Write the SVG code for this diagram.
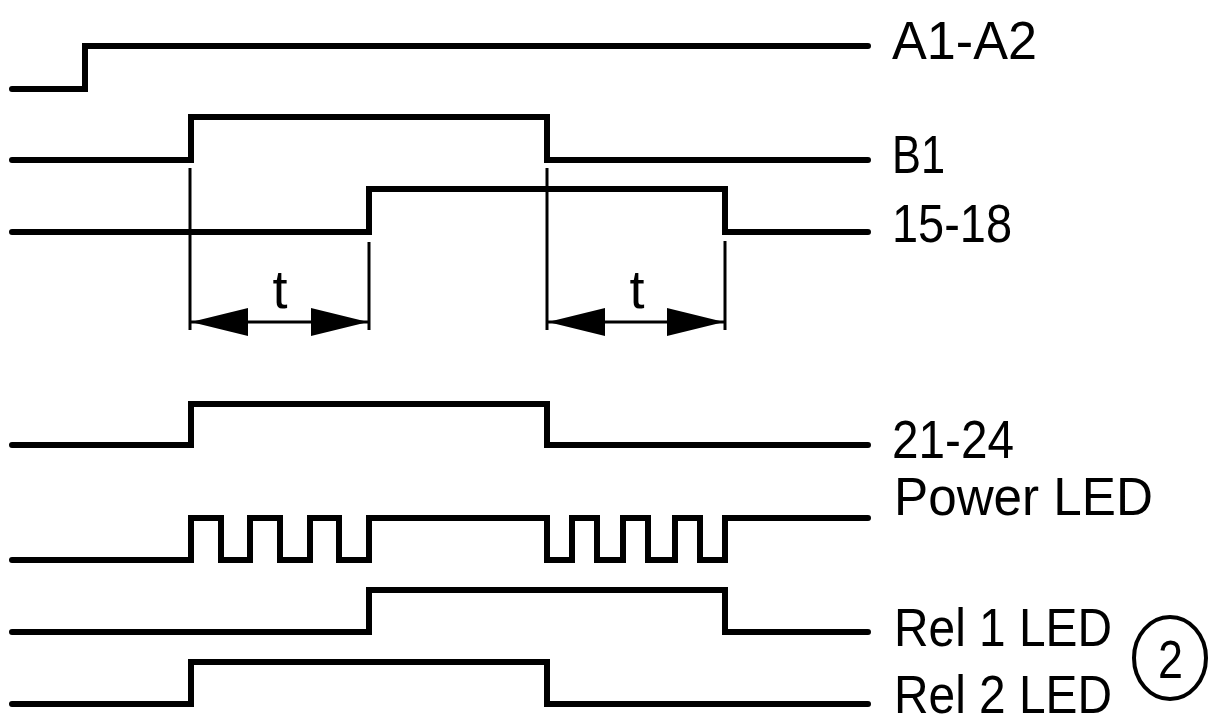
<svg xmlns="http://www.w3.org/2000/svg" width="1211" height="724" viewBox="0 0 1211 724">
<style>
.sig{fill:none;stroke:#000;stroke-width:6;stroke-linejoin:miter;stroke-linecap:round}
.dim{fill:none;stroke:#000;stroke-width:3}
.lbl{font-family:"Liberation Sans",Arial,sans-serif;font-size:54px;fill:#000}
</style>
<defs>
<marker id="ah" viewBox="0 0 57 28" refX="57" refY="14" markerWidth="57" markerHeight="28" markerUnits="userSpaceOnUse" orient="auto-start-reverse">
<path d="M0,0 L57,14 L0,28 Z" fill="#000"/>
</marker>
</defs>
<rect width="1211" height="724" fill="#fff"/>
<g id="connectors">
<path class="sig" d="M12,89 H85 V46 H868"/>
<path class="sig" d="M12,160 H191 V117 H547 V160 H868"/>
<path class="sig" d="M12,232 H369 V189 H725 V232 H868"/>
<path class="sig" d="M12,445 H191 V404 H547 V445 H868"/>
<path class="sig" d="M12,560 H191 V518 H221 V560 H250 V518 H280 V560 H310 V518 H339 V560 H369 V518 H547 V560 H572 V518 H597 V560 H623 V518 H648 V560 H675 V518 H700 V560 H725 V518 H868"/>
<path class="sig" d="M12,632 H369 V590 H725 V632 H868"/>
<path class="sig" d="M12,704 H191 V662 H547 V704 H868"/>
<line class="dim" x1="190" y1="168" x2="190" y2="330"/>
<line class="dim" x1="369" y1="242" x2="369" y2="330"/>
<line class="dim" x1="547" y1="168" x2="547" y2="330"/>
<line class="dim" x1="725" y1="241" x2="725" y2="330"/>
<line class="dim" x1="191" y1="322" x2="368" y2="322" marker-start="url(#ah)" marker-end="url(#ah)"/>
<line class="dim" x1="548" y1="322" x2="724" y2="322" marker-start="url(#ah)" marker-end="url(#ah)"/>
</g>
<g id="dim-t1"><text class="lbl" x="280" y="308" text-anchor="middle">t</text></g>
<g id="dim-t2"><text class="lbl" x="637" y="308" text-anchor="middle">t</text></g>
<g id="label-a1a2"><text class="lbl" x="892" y="59" textLength="145" lengthAdjust="spacingAndGlyphs">A1-A2</text></g>
<g id="label-b1"><text class="lbl" x="892" y="173" textLength="53" lengthAdjust="spacingAndGlyphs">B1</text></g>
<g id="label-1518"><text class="lbl" x="892" y="242" textLength="120" lengthAdjust="spacingAndGlyphs">15-18</text></g>
<g id="label-2124"><text class="lbl" x="892" y="458" textLength="122" lengthAdjust="spacingAndGlyphs">21-24</text></g>
<g id="label-power"><text class="lbl" x="894" y="515" textLength="259" lengthAdjust="spacingAndGlyphs">Power LED</text></g>
<g id="label-rel1"><text class="lbl" x="894" y="646" textLength="218" lengthAdjust="spacingAndGlyphs">Rel 1 LED</text></g>
<g id="label-rel2"><text class="lbl" x="894" y="713" textLength="218" lengthAdjust="spacingAndGlyphs">Rel 2 LED</text></g>
<g id="note-2">
<ellipse cx="1170" cy="658" rx="36" ry="41" fill="none" stroke="#000" stroke-width="4"/>
<text class="lbl" x="1158" y="678" font-size="56" textLength="25" lengthAdjust="spacingAndGlyphs">2</text>
</g>
</svg>
